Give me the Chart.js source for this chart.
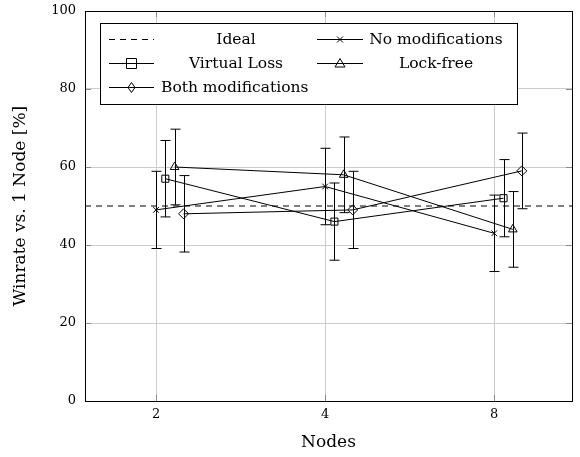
<!DOCTYPE html>
<html>
<head>
<meta charset="utf-8">
<script src="https://cdn.jsdelivr.net/npm/chart.js@4.4.1/dist/chart.umd.min.js"></script>
<style>
  html, body { margin: 0; padding: 0; background: #fff; }
  #wrap { width: 580px; height: 457px; }
</style>
</head>
<body>
<div id="wrap"><canvas id="winrateChart"></canvas></div>
<script>
const nodeLabels = ['2', '4', '8'];
const yTicks = [0, 20, 40, 60, 80, 100];
const idealValue = 50;

const seriesNames = ['No modifications', 'Virtual Loss', 'Lock-free', 'Both modifications'];
const noModifications = [49, 55, 43];
const virtualLoss = [57, 46, 52];
const lockFree = [60, 58, 44];
const bothModifications = [48, 49, 59];

const noModErr = [9.9, 9.8, 9.8];
const virtualLossErr = [9.8, 9.9, 9.9];
const lockFreeErr = [9.7, 9.7, 9.7];
const bothErr = [9.8, 9.9, 9.7];

const X_MIN = -0.42, X_MAX = 2.46;
const FONT = 'DejaVu Serif';

// small horizontal shift per series so error bars don't overlap
const shifts = [0, 0.055, 0.11, 0.163];
const markers = ['crossRot', 'rect', 'triangle', 'rectRot'];
const markerSize = [4, 5, 5, 5];

function makeSeries(name, values, errs, i) {
    return {
        label: name,
        data: values.map((v, j) => ({ x: j + shifts[i], y: v })),
        errors: errs,
        borderColor: '#000',
        borderWidth: 1,
        pointStyle: markers[i],
        pointRadius: markerSize[i],
        pointBorderColor: '#000',
        pointBackgroundColor: 'rgba(0,0,0,0)',
        pointBorderWidth: 1,
        tension: 0
    };
}

const datasets = [
    {
        label: 'Ideal',
        data: [{ x: X_MIN, y: idealValue }, { x: X_MAX, y: idealValue }],
        borderColor: '#000',
        borderWidth: 1,
        borderDash: [6, 5],
        pointRadius: 0
    },
    makeSeries(seriesNames[0], noModifications, noModErr, 0),
    makeSeries(seriesNames[1], virtualLoss, virtualLossErr, 1),
    makeSeries(seriesNames[2], lockFree, lockFreeErr, 2),
    makeSeries(seriesNames[3], bothModifications, bothErr, 3)
];

const errorBars = {
    id: 'errorBars',
    beforeDatasetsDraw(chart) {
        const { ctx, scales: { x, y } } = chart;
        ctx.save();
        ctx.strokeStyle = '#000';
        ctx.lineWidth = 1;
        chart.data.datasets.forEach(ds => {
            if (!ds.errors) return;
            ds.data.forEach((p, j) => {
                const px = Math.round(x.getPixelForValue(p.x)) + 0.5;
                const top = y.getPixelForValue(p.y + ds.errors[j]);
                const bot = y.getPixelForValue(p.y - ds.errors[j]);
                ctx.beginPath();
                ctx.moveTo(px, top); ctx.lineTo(px, bot);
                ctx.moveTo(px - 5, top); ctx.lineTo(px + 5, top);
                ctx.moveTo(px - 5, bot); ctx.lineTo(px + 5, bot);
                ctx.stroke();
            });
        });
        ctx.restore();
    }
};

function drawMarker(ctx, style, cx, cy, r) {
    ctx.beginPath();
    if (style === 'crossRot') {
        ctx.moveTo(cx - r * 0.75, cy - r * 0.75); ctx.lineTo(cx + r * 0.75, cy + r * 0.75);
        ctx.moveTo(cx - r * 0.75, cy + r * 0.75); ctx.lineTo(cx + r * 0.75, cy - r * 0.75);
    } else if (style === 'rect') {
        ctx.rect(cx - r, cy - r, 2 * r, 2 * r);
    } else if (style === 'triangle') {
        ctx.moveTo(cx, cy - r); ctx.lineTo(cx + r, cy + r * 0.7); ctx.lineTo(cx - r, cy + r * 0.7); ctx.closePath();
    } else if (style === 'rectRot') {
        ctx.moveTo(cx, cy - r); ctx.lineTo(cx + r * 0.7, cy); ctx.lineTo(cx, cy + r); ctx.lineTo(cx - r * 0.7, cy); ctx.closePath();
    }
    ctx.stroke();
}

const frameAndLegend = {
    id: 'frameAndLegend',
    afterDraw(chart) {
        const { ctx, chartArea: a, scales: { x, y } } = chart;
        ctx.save();
        ctx.lineWidth = 1;

        // inward tick marks like pgfplots
        ctx.strokeStyle = '#8a8a8a';
        ctx.beginPath();
        x.ticks.forEach(t => {
            const px = Math.round(x.getPixelForValue(t.value)) + 0.5;
            ctx.moveTo(px, a.bottom); ctx.lineTo(px, a.bottom - 6);
            ctx.moveTo(px, a.top); ctx.lineTo(px, a.top + 6);
        });
        y.ticks.forEach(t => {
            const py = Math.round(y.getPixelForValue(t.value)) + 0.5;
            ctx.moveTo(a.left, py); ctx.lineTo(a.left + 6, py);
            ctx.moveTo(a.right, py); ctx.lineTo(a.right - 6, py);
        });
        ctx.stroke();

        ctx.strokeStyle = '#000';
        ctx.strokeRect(Math.round(a.left) + 0.5, Math.round(a.top) + 0.5,
            Math.round(a.right - a.left), Math.round(a.bottom - a.top));

        // legend box
        const bx = a.left + 15, by = a.top + 12, bw = 417, bh = 81;
        ctx.fillStyle = '#fff';
        ctx.fillRect(bx, by, bw, bh);
        ctx.strokeRect(Math.round(bx) + 0.5, Math.round(by) + 0.5, bw, bh);

        const cols = [{ s: bx + 9, e: bx + 54, t: bx + 136 }, { s: bx + 217, e: bx + 263, t: bx + 336 }];
        const rows = [by + 16, by + 40, by + 64];
        const entries = [
            { label: 'Ideal', dash: true },
            { label: seriesNames[0], m: 0 },
            { label: seriesNames[1], m: 1 },
            { label: seriesNames[2], m: 2 },
            { label: seriesNames[3], m: 3 }
        ];
        ctx.font = '15.5px "' + FONT + '"';
        ctx.textBaseline = 'middle';
        ctx.fillStyle = '#000';
        entries.forEach((en, k) => {
            const c = cols[k % 2], ry = Math.round(rows[Math.floor(k / 2)]) + 0.5;
            ctx.setLineDash(en.dash ? [6, 5] : []);
            ctx.beginPath();
            ctx.moveTo(c.s, ry); ctx.lineTo(c.e, ry);
            ctx.stroke();
            ctx.setLineDash([]);
            if (!en.dash) drawMarker(ctx, markers[en.m], (c.s + c.e) / 2, ry, markerSize[en.m]);
            if (k === 4) {
                ctx.textAlign = 'left';
                ctx.fillText(en.label, c.e + 7, ry);
            } else {
                ctx.textAlign = 'center';
                ctx.fillText(en.label, c.t, ry);
            }
        });
        ctx.restore();
    }
};

new Chart(document.getElementById('winrateChart'), {
    type: 'line',
    data: { datasets },
    plugins: [errorBars, frameAndLegend],
    options: {
        responsive: true,
        maintainAspectRatio: false,
        animation: false,
        layout: { autoPadding: false, padding: { top: 11, right: 8, left: 0, bottom: 0 } },
        plugins: { legend: { display: false }, tooltip: { enabled: false } },
        scales: {
            x: {
                type: 'linear',
                min: X_MIN,
                max: X_MAX,
                afterBuildTicks: s => { s.ticks = nodeLabels.map((_, i) => ({ value: i })); },
                afterFit: s => { s.height = 56; s.paddingLeft = 0; s.paddingRight = 0; },
                ticks: {
                    color: '#000',
                    padding: 6,
                    font: { family: FONT, size: 13 },
                    callback: v => nodeLabels[v]
                },
                grid: { color: '#cccccc', drawTicks: false },
                border: { color: '#000' },
                title: {
                    display: true,
                    text: 'Nodes',
                    color: '#000',
                    font: { family: FONT, size: 17 },
                    padding: { top: 4 }
                }
            },
            y: {
                min: 0,
                max: 100,
                afterBuildTicks: s => { s.ticks = yTicks.map(v => ({ value: v })); },
                afterFit: s => { s.width = 85; s.paddingTop = 0; s.paddingBottom = 0; },
                ticks: {
                    color: '#000',
                    padding: 9,
                    font: { family: FONT, size: 13 }
                },
                grid: { color: '#cccccc', drawTicks: false },
                border: { color: '#000' },
                title: {
                    display: true,
                    text: 'Winrate vs. 1 Node [%]',
                    color: '#000',
                    font: { family: FONT, size: 17 },
                    padding: { top: 10 }
                }
            }
        }
    }
});
</script>
</body>
</html>
